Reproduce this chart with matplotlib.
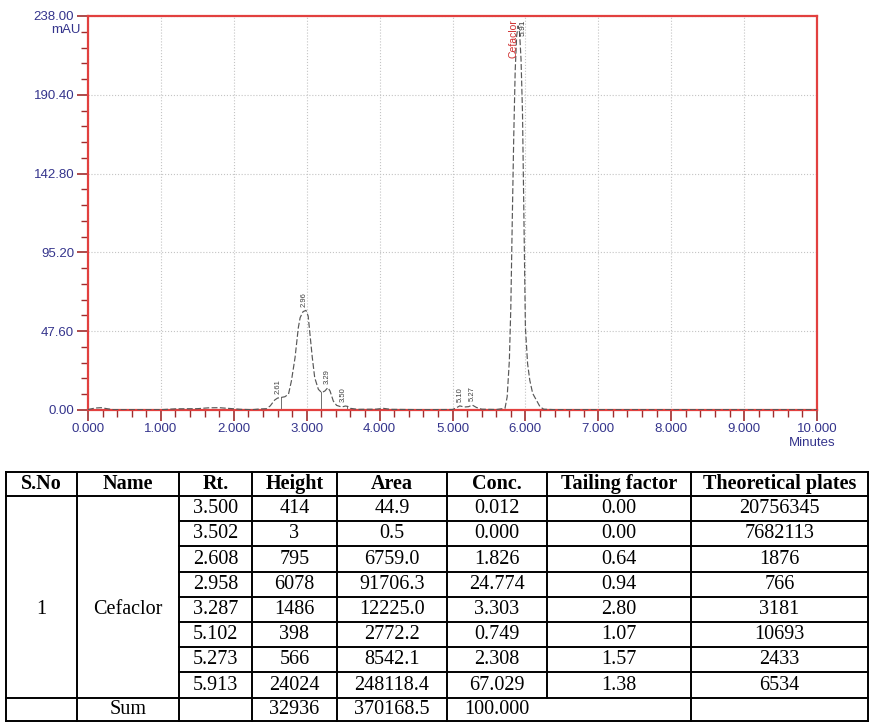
import numpy as np
import matplotlib
matplotlib.use('Agg')
import matplotlib.pyplot as plt
from matplotlib.ticker import AutoMinorLocator

# chromatogram trace (minutes, mAU)
trace_t = [0.00, 0.10, 0.18, 0.26, 0.35, 1.00, 1.20, 1.50, 1.65, 1.80, 1.95, 2.10,
           2.25, 2.35, 2.45, 2.50, 2.56, 2.60, 2.65, 2.70, 2.75, 2.79, 2.84, 2.885,
           2.91, 2.95, 2.99, 3.02, 3.045, 3.077, 3.11, 3.16, 3.205, 3.25, 3.29, 3.32,
           3.365, 3.41, 3.48, 3.53, 3.56, 3.60, 3.70, 3.95, 4.05, 4.15, 4.60, 5.00,
           5.06, 5.10, 5.16, 5.22, 5.27, 5.33, 5.40, 5.60, 5.72, 5.75, 5.78, 5.80,
           5.82, 5.84, 5.86, 5.88, 5.90, 5.92, 5.94, 5.96, 5.98, 6.00, 6.03, 6.06,
           6.10, 6.15, 6.20, 6.25, 6.40, 10.0]
trace_mau = [0.3, 1.2, 1.4, 0.8, 0.2, 0.2, 0.7, 0.8, 1.3, 1.4, 0.9, 0.4,
             0.2, 0.6, 0.8, 2.5, 6.0, 7.2, 7.6, 8.0, 9.5, 17.5, 31.6, 49.7,
             55.8, 59.4, 60.2, 56.8, 45.7, 31.6, 19.5, 12.5, 10.5, 11.5, 13.5, 11.5,
             5.4, 2.8, 1.8, 2.4, 2.2, 1.0, 0.4, 0.5, 1.0, 0.4, 0.2, 0.3,
             1.5, 2.5, 1.8, 2.0, 3.0, 1.5, 0.5, 0.3, 1.0, 8.0, 30.0, 62.0,
             115.0, 165.0, 205.0, 226.0, 232.0, 228.0, 212.0, 180.0, 115.0, 50.0, 28.0, 18.0,
             10.0, 6.0, 2.0, 0.5, 0.2, 0.2]

label_rt = [2.608, 2.958, 3.287, 3.500, 5.102, 5.273]
drop_t = [2.65, 3.20, 3.55]
main_rt = 5.913
main_name = 'Cefaclor'

y_ticks = [0.00, 47.60, 95.20, 142.80, 190.40, 238.00]
x_ticks = [0, 1, 2, 3, 4, 5, 6, 7, 8, 9, 10]

# results table
headers = ['S.No', 'Name', 'Rt.', 'Height', 'Area', 'Conc.', 'Tailing factor', 'Theoretical plates']
rt = ['3.500', '3.502', '2.608', '2.958', '3.287', '5.102', '5.273', '5.913']
height = ['414', '3', '795', '6078', '1486', '398', '566', '24024']
area = ['44.9', '0.5', '6759.0', '91706.3', '12225.0', '2772.2', '8542.1', '248118.4']
conc = ['0.012', '0.000', '1.826', '24.774', '3.303', '0.749', '2.308', '67.029']
tailing = ['0.00', '0.00', '0.64', '0.94', '2.80', '1.07', '1.57', '1.38']
plates = ['20756345', '7682113', '1876', '766', '3181', '10693', '2433', '6534']
sum_row = ['', 'Sum', '', '32936', '370168.5', '100.000']

red = '#e2403f'
tick_col = '#a02c2c'
lab_col = '#34348c'

fig = plt.figure(figsize=(8.7, 7.22), dpi=100)
W, H = 870, 722
ax = fig.add_axes([88 / W, 1 - 410 / H, (817 - 88) / W, (410 - 16) / H])

ax.plot(trace_t, trace_mau, color='#585858', lw=0.85, ls=(0, (5, 2)), zorder=3)

ax.set_xlim(0, 10)
ax.set_ylim(0, 238)
ax.set_xticks(x_ticks)
ax.set_xticklabels([f'{v:.3f}' for v in x_ticks])
ax.set_yticks(y_ticks)
ax.set_yticklabels([f'{v:.2f}' for v in y_ticks])
ax.xaxis.set_minor_locator(AutoMinorLocator(5))
ax.yaxis.set_minor_locator(AutoMinorLocator(5))
ax.tick_params(which='major', direction='out', length=8, width=1.2, color=tick_col,
               labelsize=9.5, labelcolor=lab_col, pad=2)
ax.tick_params(axis='x', which='major', pad=1)
ax.tick_params(which='minor', direction='out', length=5, width=1.0, color=tick_col)
for lab in ax.get_xticklabels() + ax.get_yticklabels():
    lab.set_family('Liberation Sans')
for s in ax.spines.values():
    s.set_color(red)
    s.set_linewidth(1.6)
ax.grid(True, which='major', color='#c4c4c4', ls=':', lw=0.8)

ax.text(-0.1, 229.5, 'mAU', ha='right', va='center', fontsize=9.5, color=lab_col,
        family='Liberation Sans', clip_on=False)
ax.text(10.26, -19.8, 'Minutes', ha='right', va='center', fontsize=9.5, color=lab_col,
        family='Liberation Sans', clip_on=False)

# peak labels and drop lines
for t in label_rt:
    h = np.interp(t, trace_t, trace_mau)
    ax.text(t, h + 2.5, f'{t:.2f}', rotation=90, ha='center', va='bottom',
            fontsize=5.5, color='#404040', family='Liberation Sans', zorder=4)
for t in drop_t:
    h = np.interp(t, trace_t, trace_mau)
    ax.plot([t, t], [0, h], color='#707070', lw=0.7, zorder=2)
ax.text(main_rt - 0.08, 236, main_name, rotation=90, ha='center', va='top',
        fontsize=7.5, color='#d03030', family='Liberation Sans', zorder=4)
ax.text(main_rt + 0.05, 236, f'{main_rt:.2f}', rotation=90, ha='center', va='top',
        fontsize=6, color='#303030', family='Liberation Sans', zorder=4)

# table drawn in pixel coordinates
tab = fig.add_axes([0, 0, 1, 1])
tab.set_xlim(0, W)
tab.set_ylim(H, 0)
tab.axis('off')
tab.patch.set_alpha(0)

col_x = [6, 77, 179, 252, 337, 447, 547, 691, 868]
row_y = [472, 496, 521, 546, 572, 597, 622, 647, 672, 698, 721]
lw = 1.4
for i, y in enumerate(row_y):
    x0 = col_x[2] if 2 <= i <= 8 else col_x[0]
    tab.plot([x0, col_x[-1]], [y, y], color='black', lw=lw, solid_capstyle='projecting')
for j, x in enumerate(col_x):
    tab.plot([x, x], [row_y[0], row_y[-2]], color='black', lw=lw)
    if j != 6:
        tab.plot([x, x], [row_y[-2], row_y[-1]], color='black', lw=lw)

cx = [(col_x[k] + col_x[k + 1]) / 2 for k in range(len(col_x) - 1)]
cy = [(row_y[k] + row_y[k + 1]) / 2 for k in range(len(row_y) - 1)]
fs = 14.5
for k, h in enumerate(headers):
    tab.text(cx[k], cy[0], h, ha='center', va='center', fontsize=fs,
             fontweight='bold', family='Liberation Serif')
for r in range(len(rt)):
    vals = [rt[r], height[r], area[r], conc[r], tailing[r], plates[r]]
    for k, v in enumerate(vals):
        tab.text(cx[k + 2], cy[r + 1], v, ha='center', va='center', fontsize=fs,
                 family='Liberation Serif')
tab.text(cx[0], cy[5], '1', ha='center', va='center', fontsize=fs, family='Liberation Serif')
tab.text(cx[1], cy[5], 'Cefaclor', ha='center', va='center', fontsize=fs, family='Liberation Serif')
for k, v in enumerate(sum_row):
    tab.text(cx[k], cy[-1], v, ha='center', va='center', fontsize=fs, family='Liberation Serif')

fig.savefig('out.png', dpi=100)
